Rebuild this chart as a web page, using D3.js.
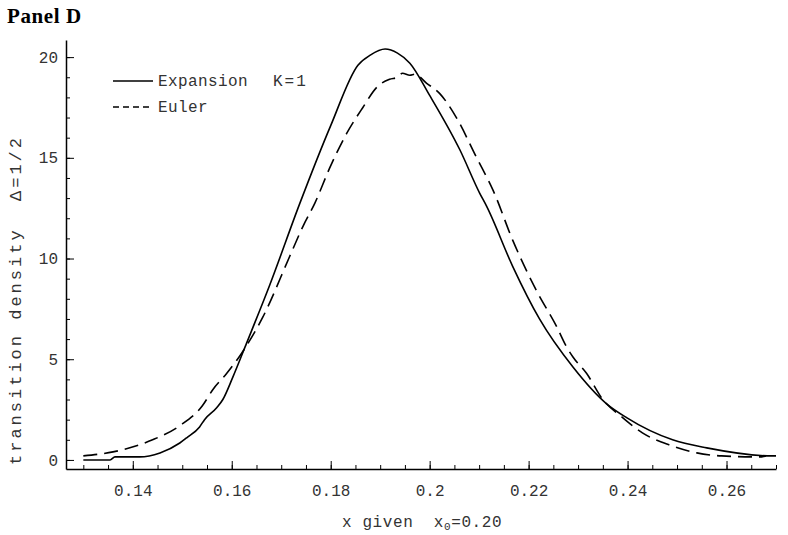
<!DOCTYPE html>
<html>
<head>
<meta charset="utf-8">
<script src="https://cdn.jsdelivr.net/npm/d3@7"></script>
<style>
  body { margin: 0; background: #fff; }
  svg { display: block; }
  .tick text { font-family: "Liberation Mono", monospace; fill: #333; }
</style>
</head>
<body>
<div id="chart"></div>
<script>
// values
const expansionX = [0.130, 0.1354, 0.1364, 0.1414, 0.1455, 0.1495, 0.1509, 0.1535, 0.1545, 0.157, 0.1582, 0.1602,
  0.163, 0.1677, 0.1737, 0.180, 0.1855, 0.188, 0.191, 0.1935, 0.196, 0.200, 0.2061, 0.2101, 0.2115, 0.2168,
  0.2222, 0.229, 0.2357, 0.2398, 0.2491, 0.256, 0.2693, 0.270];
const expansionY = [0.0, 0.0, 0.15, 0.15, 0.35, 0.84, 1.1, 1.64, 2.0, 2.6, 3.0, 4.1,
  5.8, 8.7, 12.7, 16.6, 19.6, 20.1, 20.4, 20.2, 19.7, 18.1, 15.4, 13.25, 12.6, 9.6,
  7.0, 4.6, 2.8, 2.1, 1.0, 0.6, 0.2, 0.2];

const eulerX = [0.130, 0.136, 0.1394, 0.144, 0.1495, 0.1541, 0.1562, 0.159, 0.162, 0.1663, 0.1717, 0.1744,
  0.1768, 0.1798, 0.1832, 0.1865, 0.1893, 0.1919, 0.1935, 0.1945, 0.196, 0.197, 0.1994, 0.202, 0.2054, 0.2095,
  0.2128, 0.2168, 0.2216, 0.2257, 0.2277, 0.229, 0.2317, 0.235, 0.239, 0.243, 0.2485, 0.254, 0.259, 0.2667, 0.268];
const eulerY = [0.2, 0.4, 0.6, 1.0, 1.7, 2.7, 3.5, 4.3, 5.3, 7.1, 10.1, 11.6,
  12.75, 14.5, 16.2, 17.5, 18.5, 18.9, 19.0, 19.2, 19.1, 19.15, 18.7, 18.2, 17.0, 15.0,
  13.4, 10.9, 8.4, 6.6, 5.6, 5.1, 4.3, 3.0, 2.1, 1.34, 0.74, 0.35, 0.2, 0.15, 0.2];

const xTicks = [0.14, 0.16, 0.18, 0.2, 0.22, 0.24, 0.26];
const xTickLabels = ["0.14", "0.16", "0.18", "0.2", "0.22", "0.24", "0.26"];
const yTicks = [0, 5, 10, 15, 20];
const yTickLabels = ["0", "5", "10", "15", "20"];

const W = 788, H = 535;
const svg = d3.select("#chart").append("svg")
  .attr("width", W).attr("height", H);

const x = d3.scaleLinear().domain([0.1265, 0.27]).range([66, 776]);
const y = d3.scaleLinear().domain([-0.45, 20.85]).range([469, 40]);

// minor ticks (inward)
svg.append("g")
  .attr("transform", "translate(0,469)")
  .call(d3.axisBottom(x).tickValues(d3.range(0.13, 0.2701, 0.005)).tickSize(-4).tickSizeOuter(0).tickFormat(""))
  .call(g => g.select(".domain").remove());
svg.append("g")
  .attr("transform", "translate(66,0)")
  .call(d3.axisLeft(y).tickValues(d3.range(0, 21, 1)).tickSize(-4).tickSizeOuter(0).tickFormat(""))
  .call(g => g.select(".domain").remove());

// major ticks
const xAxis = svg.append("g")
  .attr("transform", "translate(0,469)")
  .call(d3.axisBottom(x).tickValues(xTicks).tickSize(-8).tickSizeOuter(0).tickPadding(16)
    .tickFormat((d, i) => xTickLabels[i]));
xAxis.selectAll("text").style("font-size", "16px");
xAxis.select(".domain").attr("stroke-width", 1.5);

const yAxis = svg.append("g")
  .attr("transform", "translate(66,0)")
  .call(d3.axisLeft(y).tickValues(yTicks).tickSize(-8).tickSizeOuter(0).tickPadding(8)
    .tickFormat((d, i) => yTickLabels[i]));
yAxis.selectAll("text").style("font-size", "16px");
yAxis.select(".domain").attr("stroke-width", 1.5);

// curves
const line = d3.line()
  .x(d => x(d[0]))
  .y(d => y(d[1]))
  .curve(d3.curveMonotoneX);

svg.append("path")
  .datum(d3.zip(expansionX, expansionY))
  .attr("fill", "none")
  .attr("stroke", "#000")
  .attr("stroke-width", 1.6)
  .attr("d", line);

svg.append("path")
  .datum(d3.zip(eulerX, eulerY))
  .attr("fill", "none")
  .attr("stroke", "#000")
  .attr("stroke-width", 1.6)
  .attr("stroke-dasharray", "14,7")
  .attr("d", line);

// legend
const legend = svg.append("g").style("font-family", "Liberation Mono, monospace").style("font-size", "16px").attr("fill", "#333");
legend.append("line").attr("x1", 113).attr("x2", 153).attr("y1", 81).attr("y2", 81)
  .attr("stroke", "#000").attr("stroke-width", 1.5);
legend.append("text").attr("x", 158).attr("y", 86).style("letter-spacing", "0.4px").text("Expansion");
legend.append("text").attr("x", 273).attr("y", 86).style("letter-spacing", "2px").text("K=1");
legend.append("line").attr("x1", 113).attr("x2", 153).attr("y1", 107).attr("y2", 107)
  .attr("stroke", "#000").attr("stroke-width", 1.5).attr("stroke-dasharray", "6,4");
legend.append("text").attr("x", 158).attr("y", 112).style("letter-spacing", "0.4px").text("Euler");

// title
svg.append("text")
  .attr("x", 7).attr("y", 23)
  .style("font-family", "Liberation Serif, serif")
  .style("font-weight", "bold")
  .style("font-size", "21px")
  .style("letter-spacing", "0.6px")
  .text("Panel D");

// axis labels
svg.append("text")
  .attr("transform", "translate(21,300) rotate(-90)")
  .attr("text-anchor", "middle")
  .style("font-family", "Liberation Mono, monospace")
  .style("font-size", "17px")
  .style("letter-spacing", "3px")
  .style("white-space", "pre")
  .attr("fill", "#333")
  .text("transition density  Δ=1/2");

const xl = svg.append("text")
  .attr("x", 342).attr("y", 527)
  .style("font-family", "Liberation Mono, monospace")
  .style("font-size", "16px")
  .style("letter-spacing", "0.6px")
  .style("white-space", "pre")
  .attr("fill", "#333");
xl.append("tspan").text("x given  x");
xl.append("tspan").attr("dy", 3).style("font-size", "11px").text("0");
xl.append("tspan").attr("dy", -3).text("=0.20");
</script>
</body>
</html>
